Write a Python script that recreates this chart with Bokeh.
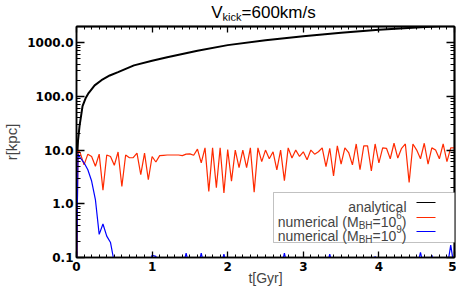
from bokeh.plotting import figure
from bokeh.layouts import column
from bokeh.models import (LogAxis, LinearAxis, FixedTicker, PrintfTickFormatter, Label,
                          BoxAnnotation, Arrow, Range1d, Div)
from bokeh.embed import file_html
from bokeh.resources import INLINE

# ---------------- data ----------------
t_analytic = [0.0, 0.005, 0.01, 0.02, 0.04, 0.08, 0.12, 0.16, 0.24, 0.33, 0.44, 0.55, 0.76,
              1.0, 1.2, 1.6, 2.0, 2.5, 3.0, 3.5, 4.0, 4.5, 5.0]
r_analytic = [0.05, 4, 8, 15, 28, 66, 92, 115, 160, 200, 245, 283, 378,
              460, 534, 708, 900, 1110, 1320, 1530, 1740, 1920, 2100]

t_num = [0.0, 0.02] + [round(0.05 * i, 2) for i in range(1, 101)]

r_bh6 = [0.05, 10,
         8.8, 5.3, 8.4, 7.6, 5.0, 8.4, 1.8, 8.1, 7.6, 5.2,
         9.2, 2.1, 8.1, 7.2, 7.2, 8.8, 3.5, 8.8, 2.8, 7.6,
         6.0, 7.9, 8.0, 8.1, 8.1, 8.1, 8.1, 7.9, 8.4, 8.5,
         8.0, 10.4, 5.8, 11, 1.7, 11, 2.0, 11, 1.6, 10.2,
         2.65, 10, 4.7, 10, 4.7, 11, 1.65, 11, 6.1, 10,
         6.9, 9.3, 4.3, 10, 2.7, 11, 7.1, 10, 7.6, 9.3,
         6.6, 10, 8.4, 9.3, 11, 4.9, 10.8, 3.3, 12, 5.5,
         11, 9.0, 5.3, 13, 4.3, 12, 12, 4.1, 13, 5.8,
         11, 10.8, 6.9, 13.4, 7.1, 10.8, 13, 2.5, 13, 10,
         6.9, 13.4, 5.5, 11, 10, 6.9, 13, 6.1, 11, 11]

r_bh9 = [0.05, 8.5,
         7.2, 5.8, 4.3, 2.65, 1.2, 0.27, 0.42, 0.25, 0.19, 0.08,
         0.06, 0.06, 0.06, 0.06, 0.06, 0.06, 0.06, 0.06, 0.06, 0.11,
         0.105, 0.06, 0.06, 0.06, 0.06, 0.06, 0.06, 0.06, 0.12, 0.06,
         0.06, 0.06, 0.12, 0.06, 0.06, 0.06, 0.06, 0.06, 0.115, 0.06,
         0.06, 0.06, 0.06, 0.06, 0.06, 0.06, 0.06, 0.06, 0.06, 0.06,
         0.06, 0.06, 0.06, 0.06, 0.12, 0.06, 0.06, 0.06, 0.06, 0.06,
         0.06, 0.06, 0.06, 0.06, 0.06, 0.06, 0.115, 0.06, 0.06, 0.06,
         0.06, 0.06, 0.06, 0.06, 0.06, 0.06, 0.06, 0.06, 0.105, 0.06,
         0.06, 0.06, 0.06, 0.06, 0.06, 0.06, 0.06, 0.06, 0.06, 0.06,
         0.125, 0.06, 0.06, 0.11, 0.06, 0.06, 0.06, 0.06, 0.17, 0.06]

x_ticks = [0, 1, 2, 3, 4, 5]
y_ticks = [0.1, 1, 10, 100, 1000]
x_minor = [round(0.1 * i, 1) for i in range(0, 51)]
y_minor = [m * d for d in [0.1, 1, 10, 100, 1000] for m in range(1, 10)]

# ---------------- layout sizes ----------------
W = 456
TITLE_H = 20
H = 288 - TITLE_H
BL, BR, BT, BB = 73, 2, 6, 30
FW = W - BL - BR
FH = H - BT - BB

title = Div(
    text=('<div style="width:%dpx;box-sizing:border-box;padding-left:%dpx;'
          'padding-top:4px;text-align:center;font-family:\'Liberation Sans\';'
          'font-size:17px;line-height:17px;color:black;white-space:nowrap">'
          'V<span style="font-size:11px;position:relative;top:3px">kick</span>=600km/s</div>')
    % (W, 2 * BL + FW - W),
    width=W, height=TITLE_H, margin=(0, 0, 0, 0))

p = figure(width=W, height=H, y_axis_type="log",
           x_range=Range1d(0, 5), y_range=Range1d(0.1, 2000),
           output_backend="svg", toolbar_location=None,
           min_border_left=BL, min_border_right=BR, min_border_top=BT, min_border_bottom=BB)
p.margin = (0, 0, 0, 0)
p.grid.visible = False
p.outline_line_color = "black"
p.outline_line_width = 1.5
p.background_fill_color = "white"
p.border_fill_color = "white"

p.line(t_analytic, r_analytic, line_color="black", line_width=2)
p.line(t_num, r_bh6, line_color="#ff2a00", line_width=1.2)
p.line(t_num, r_bh9, line_color="#0000ff", line_width=1.2)


def style_axis(ax, major_in, minor_in):
    ax.major_tick_in = major_in
    ax.major_tick_out = 0
    ax.minor_tick_in = minor_in
    ax.minor_tick_out = 0
    ax.axis_line_width = 1.5
    ax.axis_line_color = "black"
    ax.major_tick_line_width = 1.3
    ax.minor_tick_line_width = 1
    ax.major_label_text_font = "DejaVu Sans"
    ax.major_label_text_font_style = "bold"
    ax.major_label_text_font_size = "12px"
    ax.major_label_text_color = "black"


xa = p.xaxis[0]
xa.ticker = FixedTicker(ticks=x_ticks, minor_ticks=x_minor)
xa.formatter = PrintfTickFormatter(format="%d")
style_axis(xa, 6, 3)
xa.major_label_standoff = 4
xa.axis_label = "t[Gyr]"
xa.axis_label_text_font = "Liberation Sans"
xa.axis_label_text_font_style = "normal"
xa.axis_label_text_font_size = "14px"
xa.axis_label_standoff = -4

ya = p.yaxis[0]
ya.ticker = FixedTicker(ticks=y_ticks, minor_ticks=y_minor)
ya.formatter = PrintfTickFormatter(format="%.1f")
style_axis(ya, 8, 4)
ya.major_label_standoff = 3
ya.axis_label = "r[kpc]"
ya.axis_label_text_font = "Liberation Sans"
ya.axis_label_text_font_style = "normal"
ya.axis_label_text_font_size = "15px"
ya.axis_label_standoff = 4

# label-free tick axes on top and right: ticks drawn as "minor" ticks only
for ticks, length in [(x_ticks, 6), (x_minor, 3)]:
    ax = LinearAxis(ticker=FixedTicker(ticks=[], minor_ticks=ticks))
    style_axis(ax, 0, length)
    ax.minor_tick_line_width = 1.3 if length == 6 else 1
    p.add_layout(ax, "above")
for ticks, length in [(y_ticks, 8), (y_minor, 4)]:
    ax = LogAxis(ticker=FixedTicker(ticks=[], minor_ticks=ticks))
    style_axis(ax, 0, length)
    ax.minor_tick_line_width = 1.3 if length == 8 else 1
    p.add_layout(ax, "right")

tfont = "Liberation Sans"


def lab(x, y, text, size, align="left"):
    p.add_layout(Label(x=x, y=y, x_units="screen", y_units="screen", text=text,
                       text_font=tfont, text_font_size=size, text_align=align,
                       text_baseline="alphabetic"))


# ---------------- legend ----------------
p.add_layout(BoxAnnotation(left=FW - 184, right=FW, top=65, bottom=15,
                           left_units="screen", right_units="screen",
                           top_units="screen", bottom_units="screen",
                           fill_color="white", fill_alpha=1.0,
                           line_color="#333333", line_width=1))

ARIAL = {"=": 0.584, "0": 0.556, "1": 0.556, "6": 0.556, "9": 0.556,
         ")": 0.333, "B": 0.667, "H": 0.722}


def tw(s, size):
    return sum(ARIAL[c] for c in s) * size


FS, SS = 14, 10
RIGHT = FW - 51
lab(RIGHT, 51, "analytical", f"{FS}px", "right")
for yb, sup in [(36, "6"), (22, "9")]:
    r = RIGHT
    lab(r, yb, ")", f"{FS}px", "right")
    r -= tw(")", FS)
    lab(r, yb + 7, sup, f"{SS}px", "right")
    r -= tw(sup, SS)
    lab(r, yb, "=10", f"{FS}px", "right")
    r -= tw("=10", FS)
    lab(r, yb - 3.5, "BH", f"{SS}px", "right")
    r -= tw("BH", SS)
    lab(r, yb, "numerical (M", f"{FS}px", "right")

for yl, col in [(55, "black"), (40, "#ff2a00"), (26, "#0000ff")]:
    p.add_layout(Arrow(end=None, x_start=FW - 41, y_start=yl, x_end=FW - 22, y_end=yl,
                       start_units="screen", end_units="screen",
                       line_color=col, line_width=1.2))

layout = column(title, p, spacing=0)
open("out.html", "w").write(file_html(layout, INLINE))
